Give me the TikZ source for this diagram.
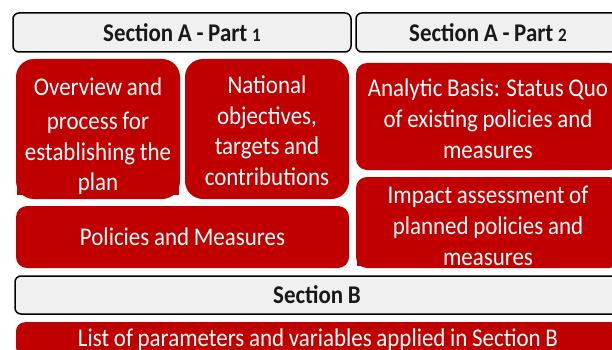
\documentclass[tikz,border=0pt]{standalone}
\usepackage{fontspec}
\setmainfont[FakeStretch=0.9,WordSpace=0.9]{Carlito}
\definecolor{boxred}{HTML}{C00000}
\definecolor{hdrgray}{HTML}{F0F0F0}
\newcommand{\osdig}[1]{{\fontsize{19}{19}\selectfont #1}}
\begin{document}
\begin{tikzpicture}[x=1pt,y=-1pt,
  hdr/.style={draw=black,line width=1.5pt,fill=hdrgray,rounded corners=6pt,
    font=\fontsize{25.5}{31}\selectfont\bfseries,text=black!90,inner sep=0pt},
  redbox/.style={fill=boxred,draw=none,text=white,align=flush center,inner sep=0pt,
    font=\fontsize{25.5}{31}\selectfont}]
\useasboundingbox (0,0) rectangle (612,350);
\clip (0,0) rectangle (612,350);
% headers
\node[hdr,minimum width=338pt,minimum height=39pt] (h1) at (182,32.5) {Section A - Part \osdig{1}};
\node[hdr,minimum width=264pt,minimum height=39pt] (h2) at (488,32.5) {Section A - Part \osdig{2}};
\node[hdr,minimum width=604pt,minimum height=38pt] (hb) at (317,295) {Section B};
% red boxes
\fill[boxred,rounded corners=18pt] (16,59) rectangle (180,199);
\node[redbox,text width=162pt,font=\fontsize{25.5}{30.5}\selectfont] (ov) at (98,136) {Overview and\\[4pt]process for\\establishing the\\plan};
\fill[boxred,rounded corners=18pt] (185,59) rectangle (349,199);
\node[redbox,text width=162pt,font=\fontsize{25.5}{30.5}\selectfont] (no) at (267,130.5) {National\\objectives,\\targets and\\contributions};
\node[redbox,rounded corners=11pt,minimum width=333pt,minimum height=62pt,text width=320pt] (pm) at (182.5,237) {Policies and Measures};
\fill[boxred,rounded corners=11pt] (356,63) rectangle (620,170);
\node[redbox,text width=262pt] (ab) at (488,118.5) {Analytic Basis: Status Quo\\of existing policies and\\measures};
\fill[boxred,rounded corners=11pt] (356,177) rectangle (620,268);
\node[redbox,text width=262pt] (ia) at (488,226) {Impact assessment of\\planned policies and\\measures};
\node[redbox,rounded corners=9pt,minimum width=604pt,minimum height=34pt,text width=590pt,anchor=north] (ls) at (318,322) {List of parameters and variables applied in Section B};
\end{tikzpicture}
\end{document}
